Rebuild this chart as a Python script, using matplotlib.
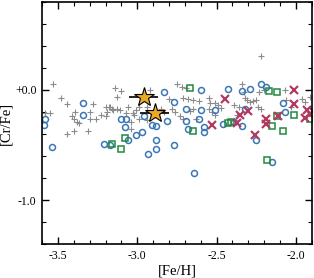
import matplotlib
matplotlib.use("Agg")
import matplotlib.pyplot as plt
from matplotlib.ticker import MultipleLocator, FuncFormatter

plt.rcParams['font.family'] = ['Liberation Serif', 'DejaVu Serif']

# comparison sample (gray plus)
plus_feh = [-3.53, -3.48, -3.44, -3.58, -3.55, -3.41, -3.40, -3.38, -3.39, -3.28,
            -3.30, -3.30, -3.20, -3.19, -3.18, -3.37, -3.44, -3.40, -3.31, -3.14,
            -3.10, -3.13, -3.20, -3.17, -3.15, -3.23, -3.26, -3.16, -3.13, -3.11,
            -3.06, -3.03, -3.01, -2.99, -2.94, -3.04, -3.04, -3.07, -3.02, -2.99,
            -2.94, -2.92, -2.80, -2.78, -2.76, -2.85, -2.83, -2.75, -2.72, -2.69,
            -2.71, -2.68, -2.65, -2.61, -2.55, -2.54, -2.51, -2.49, -2.47, -2.39,
            -2.36, -2.65, -2.67, -2.55, -2.53, -2.37, -2.73, -2.71, -2.51, -2.63,
            -2.34, -2.33, -2.32, -2.31, -2.29, -2.27, -2.25, -2.24, -2.22, -2.23,
            -2.20, -2.07, -1.96, -1.94, -2.03, -1.91, -2.22, -2.06]
plus_crfe = [0.05, -0.07, -0.13, -0.21, -0.21, -0.24, -0.26, -0.29, -0.20, -0.13,
             -0.20, -0.26, -0.24, -0.20, -0.15, -0.30, -0.40, -0.37, -0.37, 0.02,
             -0.01, -0.06, -0.15, -0.15, -0.18, -0.23, -0.26, -0.17, -0.17, -0.18,
             -0.15, -0.21, -0.18, -0.26, -0.27, -0.29, -0.35, -0.21, -0.23, -0.15,
             -0.15, 0.00, -0.08, -0.17, -0.20, -0.17, -0.20, 0.05, 0.03, 0.02,
             -0.07, -0.08, -0.09, -0.10, -0.07, -0.12, -0.12, -0.14, -0.16, -0.14,
             -0.15, -0.17, -0.19, -0.17, -0.20, -0.23, -0.24, -0.26, -0.23, -0.26,
             0.05, -0.02, -0.07, -0.09, -0.11, -0.10, -0.09, -0.15, -0.17, -0.02,
             0.00, 0.00, -0.08, -0.11, -0.15, -0.06, 0.31, -0.09]

# blue circles
circ_feh = [-3.34, -3.34, -3.58, -3.59, -2.83, -2.77, -2.96, -3.10, -3.07, -3.08,
            -2.91, -2.88, -2.81, -2.60, -2.43, -2.34, -2.29, -2.22, -2.19, -2.69,
            -2.60, -2.51, -2.32, -2.08, -2.07, -2.69, -2.61, -2.58, -2.68, -2.58,
            -2.46, -2.39, -2.34, -3.54, -3.21, -3.17, -3.06, -3.01, -2.97, -2.93,
            -2.88, -2.88, -2.77, -2.64, -2.25, -2.15]
circ_crfe = [-0.12, -0.23, -0.26, -0.32, -0.02, -0.11, -0.24, -0.26, -0.26, -0.34,
             -0.32, -0.33, -0.28, 0.00, 0.01, -0.01, 0.01, 0.05, 0.03, -0.17,
             -0.18, -0.18, -0.17, -0.12, -0.20, -0.28, -0.26, -0.34, -0.35, -0.38,
             -0.31, -0.29, -0.33, -0.52, -0.49, -0.50, -0.45, -0.41, -0.38, -0.58,
             -0.54, -0.45, -0.50, -0.75, -0.45, -0.65]

# green squares
sq_feh = [-2.67, -2.17, -2.12, -2.65, -2.43, -2.41, -2.12, -2.15, -2.01, -2.08,
          -1.91, -3.16, -3.08, -3.10, -2.18]
sq_crfe = [0.02, -0.01, -0.02, -0.37, -0.30, -0.29, -0.24, -0.33, -0.23, -0.37,
           -0.26, -0.49, -0.44, -0.54, -0.64]

# red crosses
x_feh = [-2.45, -2.30, -2.35, -2.37, -2.53, -2.19, -2.19, -2.01, -2.01, -2.26,
         -2.11, -1.93, -1.91, -1.94, -1.89]
x_crfe = [-0.08, -0.19, -0.23, -0.30, -0.32, -0.26, -0.31, 0.00, -0.13, -0.41,
          -0.24, -0.18, -0.22, -0.25, -0.19]

# program stars
star_feh = [-2.96, -2.89]
star_crfe = [-0.06, -0.21]
star_feh_err = [0.09, 0.09]
star_crfe_err = [0.04, 0.04]

fig = plt.figure(figsize=(3.14, 2.78), dpi=100)
ax = fig.add_axes([0.134, 0.122, 0.859, 0.871])

ax.plot(plus_feh, plus_crfe, '+', color='#8c8c8c', ms=5, mew=0.8, ls='none')
ax.plot(circ_feh, circ_crfe, 'o', mfc='none', mec='#3b76b6', ms=4.3, mew=1.1, ls='none')
ax.plot(sq_feh, sq_crfe, 's', mfc='none', mec='#1f8a3c', ms=3.8, mew=1.1, ls='none')
ax.plot(x_feh, x_crfe, 'x', color='#b23a63', ms=6, mew=1.6, ls='none')
ax.errorbar(star_feh, star_crfe, xerr=star_feh_err, yerr=star_crfe_err, fmt='*',
            ms=14.5, mfc='#e9a825', mec='black', mew=0.8, ecolor='black',
            elinewidth=1.2, capsize=0, zorder=5)

ax.set_xlim(-3.6, -1.9)
ax.set_ylim(-1.4, 0.8)
ax.xaxis.set_major_locator(MultipleLocator(0.5))
ax.xaxis.set_minor_locator(MultipleLocator(0.1))
ax.yaxis.set_major_locator(MultipleLocator(1.0))
ax.yaxis.set_minor_locator(MultipleLocator(0.2))
ax.xaxis.set_major_formatter(FuncFormatter(lambda v, p: '%.1f' % v))
ax.yaxis.set_major_formatter(FuncFormatter(lambda v, p: '%+.1f' % v if abs(v) < 1e-9 else '%.1f' % v))
ax.tick_params(which='both', direction='in', top=True, right=True, labelsize=8.5, pad=4)
ax.tick_params(which='major', length=5, width=1)
ax.tick_params(which='minor', length=3, width=0.8)
for s in ax.spines.values():
    s.set_linewidth(1.2)

ax.set_xlabel('[Fe/H]', fontsize=10.5, labelpad=2)
ax.set_ylabel('[Cr/Fe]', fontsize=10.5)
ax.yaxis.set_label_coords(-0.11, 0.5)

fig.savefig('out.png', dpi=100)
